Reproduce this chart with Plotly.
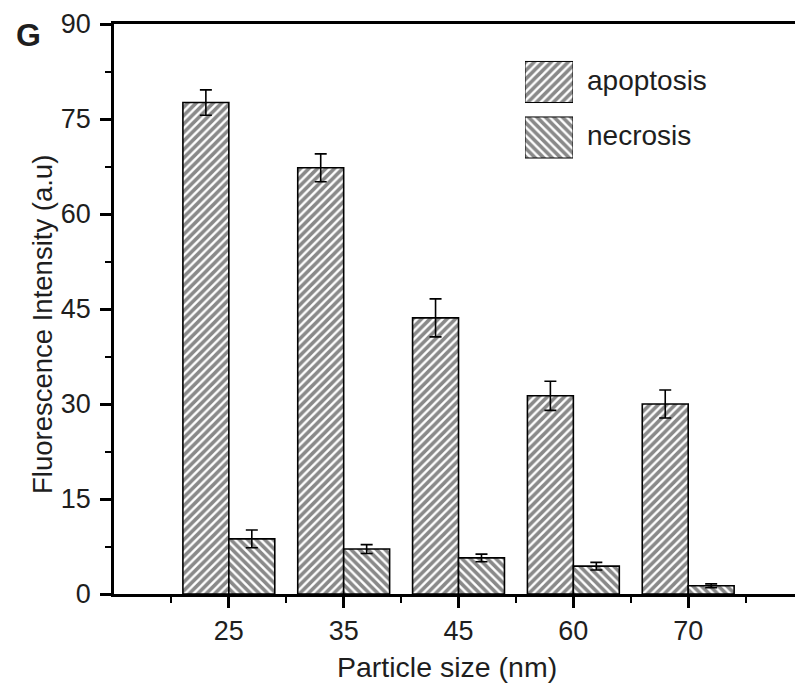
import plotly.graph_objects as go

# ---- data ----
sizes = ["25", "35", "45", "60", "70"]
positions = [1, 2, 3, 4, 5]
apoptosis = [77.6, 67.3, 43.6, 31.3, 30.0]
apoptosis_err = [2.0, 2.2, 3.0, 2.3, 2.2]
necrosis = [8.7, 7.1, 5.7, 4.4, 1.3]
necrosis_err = [1.4, 0.7, 0.6, 0.6, 0.3]
y_ticks = [0, 15, 30, 45, 60, 75, 90]
legend_names = ["apoptosis", "necrosis"]

FONT = "Liberation Sans, Arial, sans-serif"
TXT = "#1e1e1e"
FG = "#141414"
SOL = 0.6

fig = go.Figure()

fig.add_trace(go.Bar(
    x=positions, y=apoptosis, name="apoptosis",
    marker=dict(color="white", line=dict(color="black", width=1.6),
                pattern=dict(shape="/", fgcolor=FG, bgcolor="white", size=6, solidity=SOL)),
    error_y=dict(type="data", array=apoptosis_err, color="black", thickness=1.6, width=6),
    showlegend=False,
))
fig.add_trace(go.Bar(
    x=positions, y=necrosis, name="necrosis",
    marker=dict(color="white", line=dict(color="black", width=1.6),
                pattern=dict(shape="\\", fgcolor=FG, bgcolor="white", size=6, solidity=SOL)),
    error_y=dict(type="data", array=necrosis_err, color="black", thickness=1.6, width=6),
    showlegend=False,
))

# legend patches drawn as an inset bar axis
fig.add_trace(go.Bar(
    y=[1], x=[1], orientation="h", width=0.74, xaxis="x2", yaxis="y2", showlegend=False,
    marker=dict(color="white", line=dict(color="black", width=1),
                pattern=dict(shape="/", fgcolor=FG, bgcolor="white", size=6, solidity=SOL)),
    hoverinfo="skip",
))
fig.add_trace(go.Bar(
    y=[0], x=[1], orientation="h", width=0.74, xaxis="x2", yaxis="y2", showlegend=False,
    marker=dict(color="white", line=dict(color="black", width=1),
                pattern=dict(shape="\\", fgcolor=FG, bgcolor="white", size=6, solidity=SOL)),
    hoverinfo="skip",
))

W, H = 795, 684
L, R, T, B = 114, 0, 24, 90
pw, ph = W - L - R, H - T - B

def px_x(x):
    return (x - L) / pw

def px_y(y):
    return 1 - (y - T) / ph

fig.update_layout(
    width=W, height=H,
    margin=dict(l=L, r=R, t=T, b=B),
    paper_bgcolor="white", plot_bgcolor="white",
    barmode="group", bargap=0.2, bargroupgap=0,
    font=dict(family=FONT, size=27, color=TXT),
    xaxis=dict(
        range=[0, 5.93],
        tickmode="array", tickvals=positions, ticktext=sizes,
        ticks="outside", ticklen=11, tickwidth=2.5, tickcolor="black",
        minor=dict(tickmode="linear", tick0=0.5, dtick=1, ticks="outside",
                   ticklen=6, tickwidth=2, tickcolor="black"),
        showline=True, linewidth=2.5, linecolor="black", mirror=True,
        showgrid=False, zeroline=False,
        tickfont=dict(size=27, color=TXT),
    ),
    yaxis=dict(
        range=[0, 90],
        tickmode="array", tickvals=y_ticks,
        ticks="outside", ticklen=11, tickwidth=2.5, tickcolor="black",
        minor=dict(tickmode="linear", tick0=7.5, dtick=15, ticks="outside",
                   ticklen=6, tickwidth=2, tickcolor="black"),
        showline=True, linewidth=2.5, linecolor="black", mirror=False,
        showgrid=False, zeroline=False,
        tickfont=dict(size=27, color=TXT),
        ticklabelstandoff=4,
    ),
    xaxis2=dict(domain=[px_x(525), px_x(573)], range=[0, 1], anchor="y2",
                visible=False, fixedrange=True),
    yaxis2=dict(domain=[px_y(165.25), px_y(54.25)], range=[-0.5, 1.5], anchor="x2",
                visible=False, fixedrange=True),
)

# axis titles
fig.add_annotation(x=px_x(447), y=px_y(667), xref="paper", yref="paper",
                   text="Particle size (nm)", showarrow=False, xanchor="center", yanchor="middle",
                   font=dict(size=28.5, color=TXT))
fig.add_annotation(x=px_x(42), y=px_y(325), xref="paper", yref="paper",
                   text="Fluorescence Intensity (a.u)", showarrow=False, textangle=-90,
                   xanchor="center", yanchor="middle",
                   font=dict(size=27.5, color=TXT))

fig.add_annotation(x=px_x(585), y=px_y(81), xref="paper", yref="paper",
                   text=legend_names[0], showarrow=False, xanchor="left", yanchor="middle",
                   font=dict(size=28, color=TXT))
fig.add_annotation(x=px_x(585), y=px_y(136), xref="paper", yref="paper",
                   text=legend_names[1], showarrow=False, xanchor="left", yanchor="middle",
                   font=dict(size=28, color=TXT))
fig.add_annotation(x=px_x(28), y=px_y(35), xref="paper", yref="paper",
                   text="<b>G</b>", showarrow=False, xanchor="center", yanchor="middle",
                   font=dict(size=32, color=TXT))

fig.write_html("out.html")
